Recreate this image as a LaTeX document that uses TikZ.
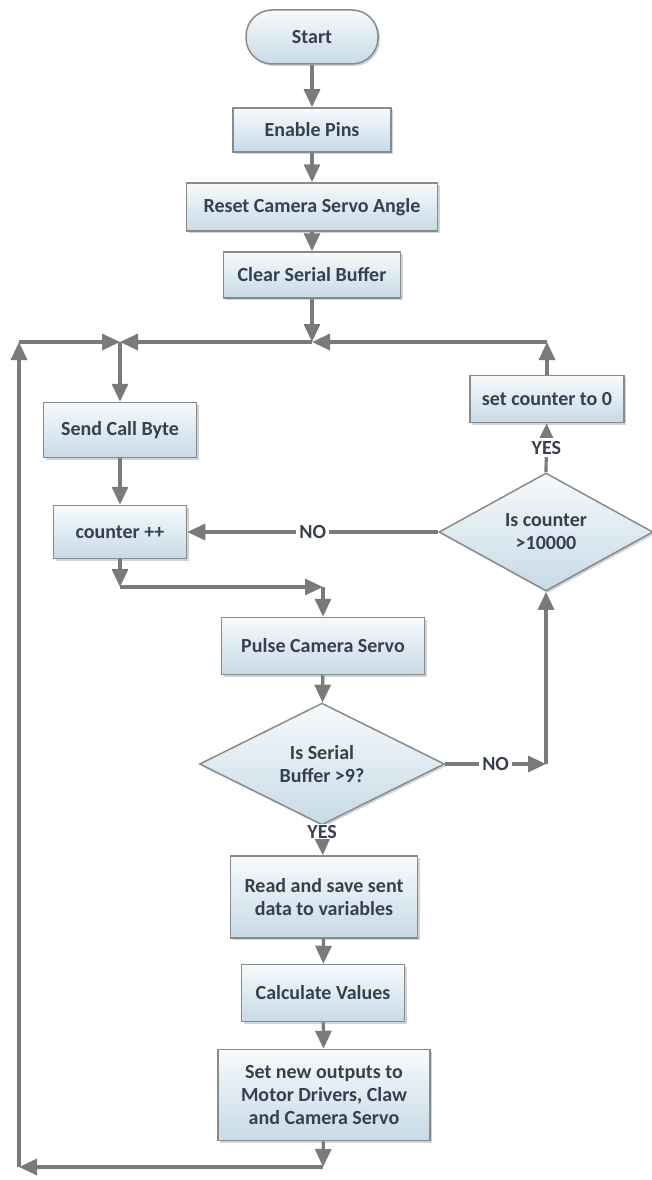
\documentclass[tikz,border=0pt]{standalone}
\usepackage{fontspec}
\setmainfont{Carlito}
\usetikzlibrary{arrows.meta,shapes.geometric,shadows}

\definecolor{boxtop}{HTML}{F7FAFC}
\definecolor{boxbot}{HTML}{C6DAE7}
\definecolor{edge}{HTML}{8A8A8A}
\definecolor{ink}{HTML}{384050}
\definecolor{wire}{HTML}{7A7A7A}

\tikzset{
    block/.style={draw=edge, line width=1.5pt, top color=boxtop, bottom color=boxbot,
        drop shadow={opacity=0.35, shadow xshift=2pt, shadow yshift=-2pt},
        text=ink, font=\fontsize{20}{23}\selectfont\bfseries, align=center, inner sep=4pt},
    term/.style={block, rounded corners=26pt},
    decide/.style={block, diamond, inner sep=0pt},
    flow/.style={wire, line width=3.2pt, -{Triangle[length=18pt,width=16pt]}},
    lbl/.style={fill=white, text=ink, font=\fontsize{20}{23}\selectfont\bfseries, inner sep=3pt}
}

\begin{document}
\begin{tikzpicture}[x=1pt, y=-1pt]
    \useasboundingbox (0,0) rectangle (651,1180);

    % main column
    \node[term, minimum width=132pt, minimum height=54pt] (start) at (312,37) {Start};
    \node[block, minimum width=158pt, minimum height=44pt] (pins) at (312,130) {Enable Pins};
    \node[block, minimum width=251pt, minimum height=48pt] (reset) at (312,207) {Reset Camera Servo Angle};
    \node[block, minimum width=177pt, minimum height=46pt] (clear) at (312,275) {Clear Serial Buffer};

    % loop part
    \node[block, minimum width=153pt, minimum height=55pt] (callbyte) at (120,430) {Send Call Byte};
    \node[block, minimum width=133pt, minimum height=53pt] (count) at (120,532) {counter ++};
    \node[decide, minimum width=214pt, minimum height=101pt] (cntcheck) at (546,532) {Is counter\\>10000};
    \node[block, minimum width=154pt, minimum height=47pt] (zero) at (547,399) {set counter to 0};
    \node[block, minimum width=203pt, minimum height=57pt] (pulse) at (323,646) {Pulse Camera Servo};
    \node[decide, minimum width=245pt, minimum height=107pt] (bufcheck) at (322,764) {Is Serial\\Buffer >9?};
    \node[block, minimum width=187pt, minimum height=82pt] (readdata) at (324,897) {Read and save sent\\data to variables};
    \node[block, minimum width=163pt, minimum height=57pt] (calc) at (323,993) {Calculate Values};
    \node[block, minimum width=212pt, minimum height=91pt] (outputs) at (324,1095) {Set new outputs to\\Motor Drivers, Claw\\and Camera Servo};

    % bends of the connectors
    \coordinate (jtop) at (312,342);
    \coordinate (jleft) at (120,342);
    \coordinate (jul) at (19,342);
    \coordinate (jbl) at (19,1167);
    \coordinate (jbot) at (323,1167);
    \coordinate (jmid) at (323,587);
    \coordinate (jright) at (546,764);

    \draw[flow] (start) -- (pins);
    \draw[flow] (pins) -- (reset);
    \draw[flow] (reset) -- (clear);
    \draw[flow] (clear) -- (jtop);
    \draw[flow] (zero) -- (zero |- jtop);
    \draw[flow] (zero |- jtop) -- (jtop);
    \draw[flow] (jtop) -- (jleft);
    \draw[flow] (jleft) -- (callbyte);
    \draw[flow] (callbyte) -- (count);
    \draw[flow] (count) -- (count |- jmid);
    \draw[flow] (count |- jmid) -- (jmid);
    \draw[flow] (jmid) -- (pulse);
    \draw[flow] (pulse) -- (bufcheck);
    \draw[flow] (bufcheck.east) -- node[lbl] {NO} (jright);
    \draw[flow] (jright) -- (cntcheck.south);
    \draw[flow] (cntcheck.north) -- node[lbl] {YES} (zero);
    \draw[flow] (cntcheck.west) -- node[lbl] {NO} (count);
    \draw[flow] (bufcheck.south) -- node[lbl, pos=0.2, inner sep=1pt] {YES} (readdata);
    \draw[flow] (readdata) -- (calc);
    \draw[flow] (calc) -- (outputs);
    \draw[flow] (outputs) -- (jbot);
    \draw[flow] (jbot) -- (jbl);
    \draw[flow] (jbl) -- (jul);
    \draw[flow] (jul) -- (jleft);
\end{tikzpicture}
\end{document}
